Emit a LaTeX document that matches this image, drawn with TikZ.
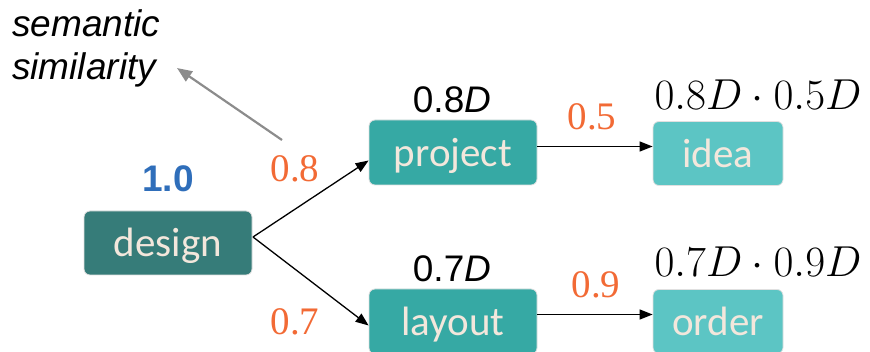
\documentclass[tikz,border=0pt]{standalone}
\usepackage{graphicx}
\usepackage{fontspec}
\newfontfamily\arialf{Liberation Sans}
\newfontfamily\timesf{Liberation Serif}
\newfontfamily\nodef{Carlito}
\usetikzlibrary{arrows.meta}
\definecolor{tdark}{HTML}{367C79}
\definecolor{tmid}{HTML}{36A9A4}
\definecolor{tlight}{HTML}{5CC5C4}
\definecolor{ntext}{HTML}{F3E7DC}
\definecolor{orng}{HTML}{F26A35}
\definecolor{blu}{HTML}{2F6EBA}
\definecolor{gry}{HTML}{8C8C8C}
\newcommand{\bigmath}[1]{\scalebox{1.74}{\Huge$#1$}}
\tikzset{
  wbox/.style={rounded corners=6pt, draw=black!12, line width=0.8pt, inner sep=0pt,
    font=\nodef\fontsize{41}{45}\selectfont, text=ntext, text height=30pt, text depth=2pt},
  lbl/.style={inner sep=0pt, anchor=base},
  wt/.style={lbl, text=orng, font=\timesf\fontsize{39}{43}\selectfont},
  sc/.style={lbl, font=\arialf\fontsize{37}{42}\selectfont},
  mth/.style={lbl},
  conn/.style={line width=1.3pt, -{Triangle[length=13pt,width=10pt]}}
}
\begin{document}
\begin{tikzpicture}[x=1pt,y=-1pt]
\useasboundingbox (0,0) rectangle (870,352);
% boxes
\node[wbox, fill=tdark, minimum width=168pt, minimum height=64pt] (design) at (168,243) {design};
\node[wbox, fill=tmid, minimum width=168pt, minimum height=65pt] (project) at (453,152.5) {project};
\node[wbox, fill=tmid, minimum width=168pt, minimum height=65pt] (layout) at (453,321.5) {layout};
\node[wbox, fill=tlight, minimum width=130pt, minimum height=64pt] (idea) at (718,153.5) {idea};
\node[wbox, fill=tlight, minimum width=130pt, minimum height=64pt] (order) at (718,321.5) {order};
% labels
\node[sc, anchor=base west, font=\arialf\itshape\fontsize{37}{42}\selectfont] (sem1) at (12,37) {semantic};
\node[sc, anchor=base west, font=\arialf\itshape\fontsize{37}{42}\selectfont] (sem2) at (12,80) {similarity};
\node[sc, text=blu, font=\arialf\bfseries\fontsize{37}{42}\selectfont] (one) at (168,192) {1.0};
\node[sc] (p8) at (452,113) {0.8\textit{D}};
\node[sc] (p7) at (452,282) {0.7\textit{D}};
\node[mth] (ia) at (758,110) {\bigmath{0.8D\cdot0.5D}};
\node[mth] (oa) at (758,277) {\bigmath{0.7D\cdot0.9D}};
\node[wt] (w8) at (295,182) {0.8};
\node[wt] (w7) at (295,335) {0.7};
\node[wt] (w5) at (592,130) {0.5};
\node[wt] (w9) at (596,298) {0.9};
% connectors
\coordinate (src) at (253,237);
\draw[conn] (src) -- ([yshift=-8pt]project.west);
\draw[conn] (src) -- ([yshift=-4pt]layout.west);
\draw[conn] ([yshift=6pt]project.east) -- ([yshift=7pt]idea.west);
\draw[conn] ([yshift=7pt]layout.east) -- ([yshift=7pt]order.west);
\coordinate (gtail) at (282,140);
\coordinate (ghead) at (177,68);
\draw[line width=2.2pt, draw=gry, -{Triangle[length=15pt,width=12pt]}] (gtail) -- (ghead);
\end{tikzpicture}
\end{document}
